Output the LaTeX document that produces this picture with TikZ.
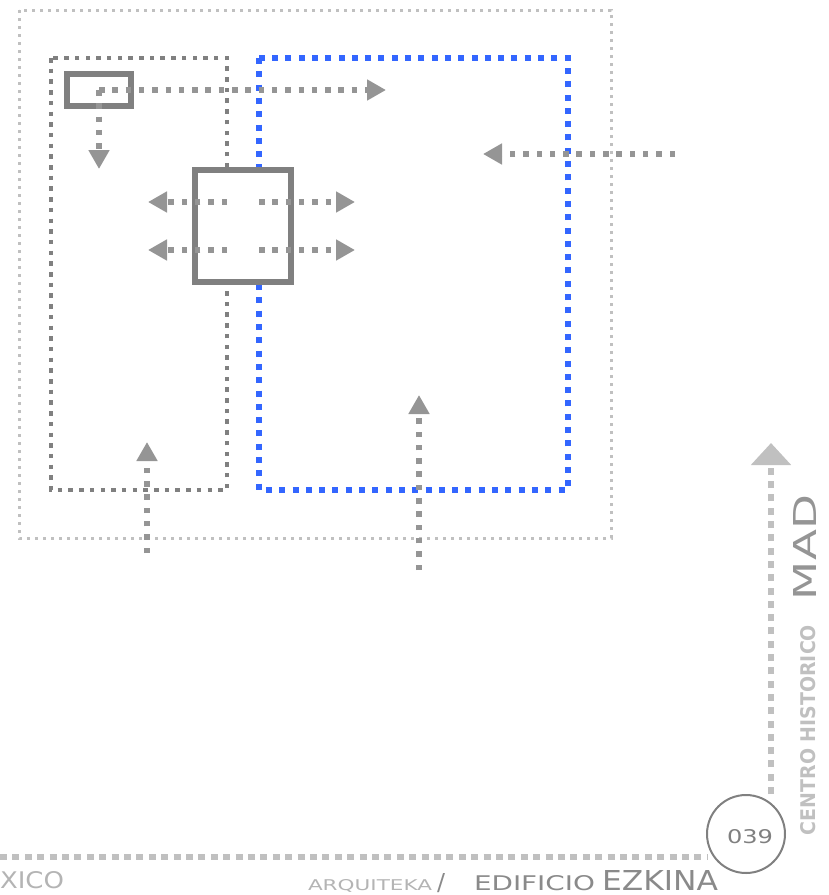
\documentclass[tikz,border=0pt]{standalone}
\usepackage{fontspec}
\setmainfont{DejaVu Sans}
\usetikzlibrary{arrows.meta}
\definecolor{lgray}{HTML}{C0C0C0}
\definecolor{dgray}{HTML}{808080}
\definecolor{agray}{HTML}{959595}
\definecolor{pblue}{HTML}{3366FF}
\definecolor{tlight}{HTML}{B4B4B4}
\definecolor{tdark}{HTML}{8A8A8A}
\begin{document}
\begin{tikzpicture}[x=1pt,y=-1pt,
  outerdots/.style={draw=lgray,line width=3pt,dash pattern=on 3pt off 5pt},
  zonedots/.style={draw=dgray,line width=4.5pt,dash pattern=on 4.5pt off 6.2pt},
  bluedots/.style={draw=pblue,line width=5.5pt,dash pattern=on 6pt off 7.3pt},
  boxline/.style={draw=dgray,line width=6pt,inner sep=0pt,fill=white},
  flow/.style={draw=agray,line width=5.5pt,dash pattern=on 5.5pt off 7.8pt,
     -{Triangle[length=19pt,width=20pt]}},
  bigflow/.style={draw=lgray,line width=5.5pt,dash pattern=on 7pt off 6.3pt,
     -{Triangle[length=22pt,width=39pt]}},
  footline/.style={draw=lgray,line width=5.5pt,dash pattern=on 7pt off 5.4pt},
  lbl/.style={inner sep=0pt,outer sep=0pt}
]
\useasboundingbox (0,0) rectangle (829,895);

% zones
\draw[outerdots] (19,10) rectangle (611,538);
\draw[zonedots] (51,58) rectangle (227,490);
\draw[bluedots] (259,58) rectangle (568,490);

% boxes
\node[boxline,minimum width=64pt,minimum height=32pt] (small) at (99,90) {};
\node[boxline,minimum width=96pt,minimum height=112pt] (big) at (243,226) {};

% arrow end points
\coordinate (topTip) at (386,90);
\coordinate (downTip) at (99,169);
\coordinate (rStart) at (675,154);
\coordinate (rTip) at (483,154);
\coordinate (l1s) at (227,202);
\coordinate (l1t) at (148,202);
\coordinate (r1s) at (259,202);
\coordinate (r1t) at (355,202);
\coordinate (l2s) at (227,250);
\coordinate (l2t) at (148,250);
\coordinate (r2s) at (259,250);
\coordinate (r2t) at (355,250);
\coordinate (bls) at (147,553);
\coordinate (blt) at (147,442);
\coordinate (brs) at (419,570);
\coordinate (brt) at (419,395);

\draw[flow] (small.center) -- (topTip);
\draw[flow] (small.center) -- (downTip);
\draw[flow] (rStart) -- (rTip);
\draw[flow] (l1s) -- (l1t);
\draw[flow] (r1s) -- (r1t);
\draw[flow] (l2s) -- (l2t);
\draw[flow] (r2s) -- (r2t);
\draw[flow] (bls) -- (blt);
\draw[flow] (brs) -- (brt);

% page furniture
\node[draw=dgray,line width=2pt,circle,minimum size=78pt,inner sep=0pt] (page) at (746,834) {};
\node[lbl,text=dgray] (num) at (750,837) {\resizebox{46pt}{14pt}{039}};
\coordinate (vTip) at (771,443);
\draw[bigflow] (page.north -| vTip) -- (vTip);
\coordinate (fs) at (0,857);
\coordinate (fe) at (707,857);
\draw[footline] (fs) -- (fe);

\node[lbl,text=tlight,anchor=base west] (xico) at (0,888) {\resizebox{64pt}{17pt}{XICO}};
\node[lbl,text=tlight,anchor=base west] (arq) at (308,890) {\resizebox{124pt}{11pt}{ARQUITEKA}};
\node[lbl,text=tdark,anchor=base west] (slash) at (437,890) {\resizebox{8pt}{17pt}{/}};
\node[lbl,text=tdark,anchor=base west] (edif) at (474,890) {\resizebox{121pt}{15pt}{EDIFICIO}};
\node[lbl,text=tdark,anchor=base west] (ezk) at (602,890) {\resizebox{116pt}{20pt}{EZKINA}};

\node[lbl,text=lgray,rotate=90,anchor=south west] (centro) at (816,835) {\resizebox{210pt}{15pt}{\bfseries CENTRO HISTORICO}};
\node[lbl,text=agray,rotate=90,anchor=south west] (mad) at (816,600) {\resizebox{105pt}{23pt}{MAD}};
\end{tikzpicture}
\end{document}
